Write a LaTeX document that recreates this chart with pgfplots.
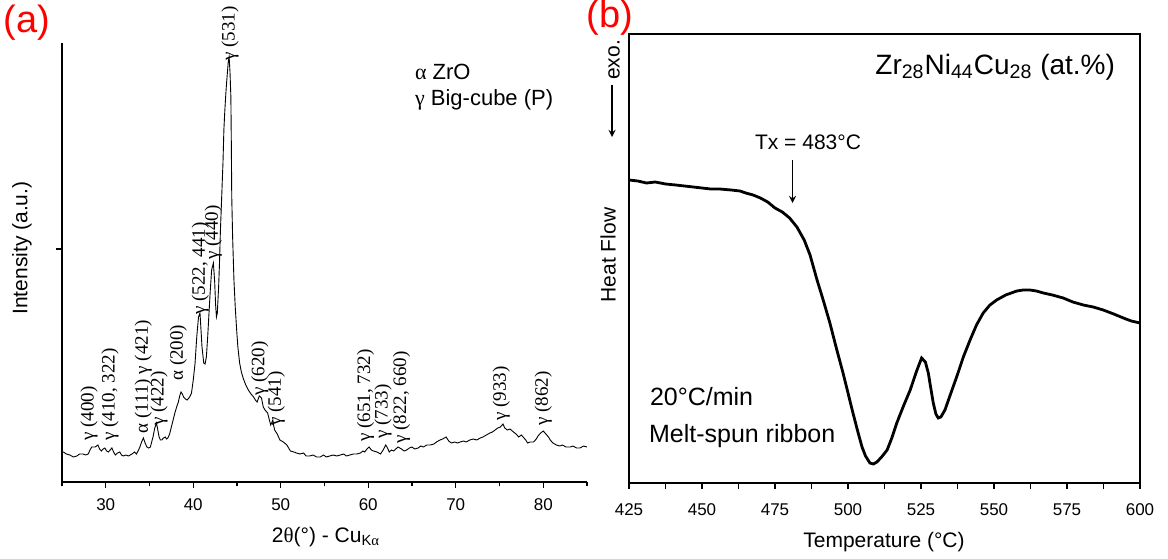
\documentclass[border=0pt]{standalone}
\usepackage{fontspec}
\setmainfont{Liberation Sans}
\newfontfamily\serif{Liberation Serif}
\usepackage{pgfplots}
\pgfplotsset{compat=1.18}
\newcommand\pl{\serif\fontsize{9.5}{10}\selectfont}
\newcommand\fs[1]{\fontsize{#1}{#1}\selectfont}

\begin{document}
\begin{tikzpicture}
\path[use as bounding box] (0,0) rectangle (584pt,279pt);

% (a) XRD pattern
\begin{axis}[at={(31pt,38pt)}, anchor=south west, scale only axis,
  width=262.5pt, height=219.5pt,
  xmin=25, xmax=85, ymin=0, ymax=439,
  axis x line=bottom, axis y line=left,
  axis line style={-, line width=0.8pt},
  xtick={30,40,...,80}, minor xtick={25,35,...,85},
  ytick={233}, yticklabels={},
  tick align=outside, major tick length=3pt, minor tick length=2pt,
  tick style={black, line width=0.7pt},
  ticklabel style={font=\fs{8.5}},
  xticklabel style={yshift=-2pt},
  /pgf/number format/assume math mode=true,
  clip=false]
\addplot[black, line width=0.45pt] coordinates {
(25.0,30)(25.15,30)(25.5,28)(25.9,27)(26.3,25)(26.7,26)(27.0,28)(27.4,28)(27.7,27)(28.0,28)
(28.2,32)(28.4,35)(28.8,35)(29.1,37)(29.3,33)(29.5,31)(29.7,33)(29.9,34)(30.1,31)(30.3,30)
(30.5,32)(30.7,34)(30.9,30)(31.1,27)(31.35,29)(31.6,30)(31.8,27)(32.0,26)(32.3,27)(32.6,26)
(32.8,27)(33.0,28)(33.3,30)(33.5,28)(33.7,31)(33.9,35)(34.1,40)(34.3,44)(34.5,39)(34.7,35)
(34.9,34)(35.1,35)(35.4,45)(35.6,54)(35.8,59)(35.95,52)(36.1,45)(36.25,42)(36.4,42)(36.6,44)
(36.8,45)(36.95,43)(37.1,44)(37.3,48)(37.5,55)(37.7,62)(37.9,69)(38.1,75)(38.3,80)(38.45,86)
(38.6,90)(38.75,88)(38.9,85)(39.1,83)(39.3,82)(39.5,84)(39.65,86)(39.8,89)(40.0,102)(40.2,118)
(40.4,145)(40.6,165)(40.77,169)(40.9,150)(41.0,135)(41.2,119)(41.35,118)(41.5,125)(41.65,145)(41.8,169)
(41.95,192)(42.1,212)(42.3,219)(42.45,200)(42.55,178)(42.65,165)(42.75,169)(42.9,195)(43.0,219)(43.1,250)
(43.25,285)(43.4,320)(43.5,352)(43.6,370)(43.7,385)(43.8,398)(43.9,409)(44.0,420)(44.1,425)(44.2,410)
(44.3,385)(44.35,340)(44.4,285)(44.5,245)(44.65,202)(44.8,175)(44.96,152)(45.1,135)(45.3,119)(45.5,110)
(45.7,104)(46.0,97)(46.3,92)(46.6,88)(46.9,85)(47.1,82)(47.3,80)(47.55,86)(47.8,84)(48.0,75)
(48.2,72)(48.5,69)(48.7,62)(48.85,57)(49.0,60)(49.1,62)(49.2,56)(49.3,52)(49.6,48)(49.9,42)
(50.3,40)(50.7,37)(51.1,31)(51.5,30)(51.8,29)(52.2,28)(52.6,29)(52.9,26)(53.3,26)(53.7,27)
(54.1,25)(54.5,25)(54.9,27)(55.2,25)(55.6,26)(56.0,27)(56.4,26)(56.8,27)(57.2,28)(57.5,26)
(57.9,27)(58.3,28)(58.7,28)(59.1,29)(59.4,31)(59.6,30)(59.85,33)(60.1,35)(60.35,32)(60.6,31)
(61.0,30)(61.2,29)(61.4,28)(61.7,32)(62.0,37)(62.2,34)(62.4,30)(62.65,32)(62.9,31)(63.15,33)
(63.4,35)(63.6,34)(63.8,33)(64.1,31)(64.4,32)(64.7,34)(65.0,35)(65.3,33)(65.7,34)(66.0,36)
(66.3,35)(66.7,37)(67.1,37)(67.5,38)(67.8,40)(68.2,42)(68.5,43)(68.9,45)(69.2,41)(69.5,39)
(69.9,40)(70.2,39)(70.5,40)(70.9,41)(71.2,40)(71.6,42)(72.0,43)(72.4,42)(72.8,44)(73.1,45)
(73.5,47)(73.9,49)(74.2,50)(74.5,52)(74.8,54)(75.1,55)(75.4,58)(75.6,54)(75.9,52)(76.2,53)
(76.6,50)(76.9,48)(77.2,45)(77.5,47)(77.7,45)(78.0,42)(78.2,39)(78.5,40)(78.9,40)(79.2,43)
(79.4,46)(79.7,49)(80.0,51)(80.3,48)(80.6,45)(80.8,42)(81.1,39)(81.5,37)(81.9,36)(82.2,37)
(82.6,35)(83.1,35)(83.4,36)(83.8,34)(84.2,34)(84.6,36)(85.0,35)};
\begin{scope}[every node/.style={rotate=90, anchor=west, font=\pl, inner sep=0.5pt}]
\node at (axis cs:28.1,40) {γ (400)};
\node at (axis cs:30.5,40) {γ (410, 322)};
\node at (axis cs:34.3,47) {α (111) γ (421)};
\node at (axis cs:36.1,55) {γ (422)};
\node at (axis cs:38.3,100) {α (200)};
\node at (axis cs:40.8,166) {γ (522, 441)};
\node at (axis cs:42.3,221) {γ (440)};
\node at (axis cs:44.2,420) {γ (531)};
\node at (axis cs:47.6,85) {γ (620)};
\node at (axis cs:49.5,55) {γ (541)};
\node at (axis cs:59.7,39) {γ (651, 732)};
\node at (axis cs:61.7,42) {γ (733)};
\node at (axis cs:63.8,37) {γ (822, 660)};
\node at (axis cs:75.2,60) {γ (933)};
\node at (axis cs:80.0,55) {γ (862)};
\end{scope}
\end{axis}

% (b) DSC curve
\begin{axis}[at={(314.5pt,37.5pt)}, anchor=south west, scale only axis,
  width=255.5pt, height=224.5pt,
  xmin=425, xmax=600, ymin=0, ymax=449,
  axis line style={line width=0.8pt},
  xtick={425,450,...,600}, minor x tick num=1, xtick pos=lower,
  ytick=\empty,
  tick align=outside, major tick length=3pt, minor tick length=3pt,
  tick style={black, line width=0.7pt},
  ticklabel style={font=\fs{8.5}},
  xticklabel style={yshift=-4pt},
  /pgf/number format/assume math mode=true,
  clip=false]
\addplot[black, line width=1.4pt] coordinates {
(425,303)(428,302)(431,300)(434,301)(437.5,299)(441,298)(444,297)(447,296)(450,295)(453,294)
(456,294)(460,293)(463,292)(465,290)(467.5,288)(470,285)(472.5,281)(475,275)(477.5,271)(480,265)
(482.5,256)(485,243)(487,228)(489.4,203)(491.5,183)(493.8,160)(496,135)(498.3,110)(500,90)(501.7,70)
(503.3,52)(504.8,36)(506,27)(507.5,20)(508.7,19)(509.9,21)(511.5,26)(513.4,33)(515,45)(516.7,60)
(519,77)(521.3,93)(523.5,112)(525.2,125)(526.5,121)(527.5,110)(528.4,94)(529.2,80)(530.1,69)(530.9,65)
(531.8,66)(533.2,73)(535,88)(537.2,106)(539.5,126)(541.8,143)(544,158)(546.3,170)(548.6,178)(550.9,183)
(554,188)(557.8,192)(560,193)(562.3,193)(564.5,192)(566.9,190)(570,188)(573.7,185)(577,181)(580.6,178)
(584,176)(587.4,173)(591,169)(594.3,165)(597,162)(600,160)};
\draw[-stealth, line width=0.6pt] (axis cs:481,323) -- (axis cs:481,280);
\end{axis}

% labels and annotations
\node[red, font=\fs{19}] at (13.5pt,267.5pt) {(a)};
\node[red, font=\fs{19}] at (305pt,270pt) {(b)};
\node[font=\fs{10.5}] at (163pt,10.5pt) {2{\serif θ}(°) - Cu\textsubscript{K{\serif α}}};
\node[font=\fs{10.5}, rotate=90] at (11pt,155pt) {Intensity (a.u.)};
\node[anchor=west, font=\fs{11}] at (204pt,243pt) {{\serif α} ZrO};
\node[anchor=west, font=\fs{11}] at (204pt,229pt) {{\serif γ} Big-cube (P)};
\node[font=\fs{10.5}] at (442pt,8pt) {Temperature (°C)};
\node[font=\fs{10.5}, rotate=90] at (304pt,151.5pt) {Heat Flow};
\node[font=\fs{10.5}, rotate=90] at (307pt,249pt) {exo.};
\draw[-stealth, line width=0.6pt] (306pt,236.5pt) -- (306pt,210.5pt);
\node[font=\fs{10.5}] at (404pt,208pt) {Tx = 483°C};
\node[anchor=east, font=\fs{14}] at (561pt,245.5pt) {Zr\textsubscript{28}Ni\textsubscript{44}Cu\textsubscript{28} (at.\%)};
\node[anchor=west, font=\fs{12.5}] at (321.5pt,80.5pt) {20°C/min};
\node[anchor=west, font=\fs{12.5}] at (321pt,61pt) {Melt-spun ribbon};
\end{tikzpicture}
\end{document}
